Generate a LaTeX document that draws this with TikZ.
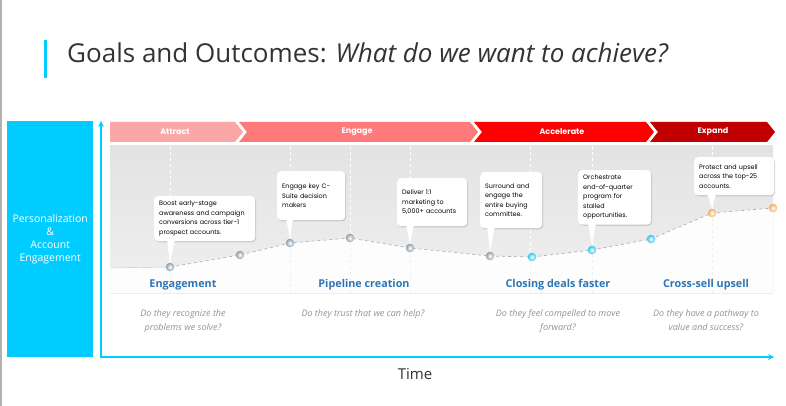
\documentclass[tikz,border=0pt]{standalone}
\usepackage{fontspec}
\setmainfont{Open Sans}
\newfontfamily\gothic{Poppins}
\usetikzlibrary{arrows, positioning, calc, shadows}

\definecolor{skyblue}{HTML}{00CCFF}
\definecolor{stageblue}{HTML}{2E75B6}
\definecolor{attractc}{HTML}{F9A7A7}
\definecolor{engagec}{HTML}{FF7B7B}
\definecolor{acceleratec}{HTML}{FF0000}
\definecolor{expandc}{HTML}{C00000}
\definecolor{steeldot}{HTML}{8D9DAA}
\definecolor{cyandot}{HTML}{2EC4F0}
\definecolor{orangedot}{HTML}{F2AE5C}

\begin{document}
\begin{tikzpicture}[x=1pt, y=-1pt,
    callout/.style={rectangle, rounded corners=4pt, fill=white, anchor=north west, align=left, inner sep=5pt,
        font=\gothic\fontsize{6.4}{9.5}\selectfont, drop shadow={opacity=0.3, shadow xshift=1pt, shadow yshift=-1.2pt}},
    tail/.style={fill=white},
    dot/.style={circle, minimum size=8.5pt, inner sep=0pt, inner color=white},
    chevlabel/.style={font=\gothic\bfseries\fontsize{8}{9}\selectfont, text=white},
    stage/.style={font=\bfseries\fontsize{10.8}{12}\selectfont, text=stageblue},
    question/.style={font=\itshape\fontsize{9}{14.5}\selectfont, text=gray!85, align=center},
    grid/.style={white, dashed, line width=0.8pt},
    arrow/.style={->, >=stealth, thick},
    every node/.style={inner sep=2pt}
]

\useasboundingbox (0,0) rectangle (786,406);
\fill[white] (0,0) rectangle (786,406);
\draw[gray!60, line width=1.2pt] (1,0) -- (1,406);

% =================== TITLE ===================
\fill[skyblue] (44,40) rectangle (47,78);
\node[anchor=west, font=\fontsize{26}{28}\selectfont, text=black!80] (title) at (65,53)
    {Goals and Outcomes: \textit{What do we want to achieve?}};

% =================== LEFT LABEL ===================
\node[rectangle, fill=skyblue, minimum width=86pt, minimum height=236pt, anchor=north west] (side) at (7,121) {};
\node[text=white, align=center, font=\fontsize{10.5}{13}\selectfont] (sidetext) at (side.center)
    {Personalization\\\&\\Account\\Engagement};

% =================== PANEL ===================
\shade[top color=gray!22, bottom color=gray!12] (110,146) rectangle (773,293);

\draw[grid] (170,146) -- (170,293);
\draw[grid] (290,146) -- (290,293);
\draw[grid] (350,146) -- (350,293);
\draw[grid] (410,146) -- (410,293);
\draw[grid] (530,146) -- (530,293);
\draw[grid] (592,146) -- (592,293);
\draw[grid] (712,146) -- (712,293);

% curve points
\coordinate (p0) at (110,268);
\coordinate (p1) at (170,267);
\coordinate (p2) at (240,255);
\coordinate (p3) at (290,243);
\coordinate (p4) at (350,238);
\coordinate (p5) at (410,248);
\coordinate (p6) at (490,256);
\coordinate (p7) at (532,257);
\coordinate (p8) at (592,250);
\coordinate (p9) at (651,239);
\coordinate (p10) at (712,213);
\coordinate (p11) at (773,208);

% white area under the curve
\fill[white, opacity=0.92] (p0) -- (p1) -- (p2) -- (p3) -- (p4) -- (p5) -- (p6) -- (p7) -- (p8) -- (p9) -- (p10) -- (p11)
    -- (773,293) -- (110,293) -- cycle;
\begin{scope}
    \clip (p0) -- (p1) -- (p2) -- (p3) -- (p4) -- (p5) -- (p6) -- (p7) -- (p8) -- (p9) -- (p10) -- (p11)
        -- (773,293) -- (110,293) -- cycle;
    \foreach \gx in {170,290,350,410,530,592,712}
        \draw[gray!12, dashed] (\gx,146) -- (\gx,293);
    \draw[gray!25] (773,146) -- (773,293);
\end{scope}
\draw[gray!15] (110,293) -- (773,293);

\draw[gray!45] (p0) -- (p1);
\draw[gray!60, dashed, line width=0.7pt] (p1) -- (p2) -- (p3) -- (p4) -- (p5) -- (p6) -- (p7) -- (p8) -- (p9) -- (p10) -- (p11);

% dots
\node[dot, outer color=steeldot] (d1) at (p1) {};
\node[dot, outer color=steeldot] (d2) at (p2) {};
\node[dot, outer color=steeldot] (d3) at (p3) {};
\node[dot, outer color=steeldot] (d4) at (p4) {};
\node[dot, outer color=steeldot] (d5) at (p5) {};
\node[dot, outer color=steeldot] (d6) at (p6) {};
\node[dot, outer color=cyandot] (d7) at (p7) {};
\node[dot, outer color=cyandot] (d8) at (p8) {};
\node[dot, outer color=cyandot] (d9) at (p9) {};
\node[dot, outer color=orangedot] (d10) at (p10) {};
\node[dot, outer color=orangedot] (d11) at (p11) {};

% =================== CALLOUTS ===================
\node[callout, text width=91pt, minimum height=43pt] (c1) at (154,196)
    {Boost early-stage\\awareness and campaign\\conversions across tier-1\\prospect accounts.};
\fill[tail] ([xshift=13pt, yshift=2pt]c1.south west) -- (d1.north) -- ([xshift=21pt, yshift=2pt]c1.south west) -- cycle;

\node[callout, text width=58pt, minimum height=49pt] (c2) at (277,171)
    {Engage key C-\\Suite decision\\makers\\[8pt]};
\fill[tail] ([xshift=9pt, yshift=2pt]c2.south west) -- (d3.north) -- ([xshift=16pt, yshift=2pt]c2.south west) -- cycle;

\node[callout, text width=60pt, minimum height=48pt] (c3) at (397,178)
    {Deliver 1\kern0pt:\kern0pt1\\marketing to\\5,000+ accounts};
\fill[tail] ([xshift=9pt, yshift=2pt]c3.south west) -- (d5.north) -- ([xshift=17pt, yshift=2pt]c3.south west) -- cycle;

\node[callout, text width=52pt, minimum height=56pt] (c4) at (480,172)
    {Surround and\\engage the\\entire buying\\committee.};
\fill[tail] ([xshift=7pt, yshift=2pt]c4.south west) -- (d6.north) -- ([xshift=15pt, yshift=2pt]c4.south west) -- cycle;

\node[callout, text width=63pt, minimum height=52pt] (c5) at (578,170)
    {Orchestrate\\end-of-quarter\\program for\\stalled\\opportunities.};
\fill[tail] ([xshift=10pt, yshift=2pt]c5.south west) -- (d8.north) -- ([xshift=18pt, yshift=2pt]c5.south west) -- cycle;

\node[callout, text width=70pt, minimum height=38pt] (c6) at (694,157)
    {Protect and upsell\\across the top-25\\accounts.\\[2pt]};
\fill[tail] ([xshift=13pt, yshift=2pt]c6.south west) -- (d10.north) -- ([xshift=22pt, yshift=2pt]c6.south west) -- cycle;

% =================== PHASE CHEVRONS ===================
\fill[attractc] (110,122) -- (235,122) -- (243,132) -- (235,142) -- (110,142) -- cycle;
\fill[engagec] (239,122) -- (470,122) -- (478,132) -- (470,142) -- (239,142) -- (247,132) -- cycle;
\fill[acceleratec] (474,122) -- (646,122) -- (654,132) -- (646,142) -- (474,142) -- (482,132) -- cycle;
\fill[expandc] (650,122) -- (767,122) -- (775,132) -- (767,142) -- (650,142) -- (658,132) -- cycle;

\node[chevlabel] (attract) at (175,132) {Attract};
\node[chevlabel] (engage) at (357,132) {Engage};
\node[chevlabel] (accelerate) at (562,132) {Accelerate};
\node[chevlabel] (expand) at (713,132) {Expand};

% =================== STAGES ===================
\node[stage] (s1) at (183,285) {Engagement};
\node[stage] (s2) at (364,285) {Pipeline creation};
\node[stage] (s3) at (558,285) {Closing deals faster};
\node[stage] (s4) at (706,285) {Cross-sell upsell};

\node[question, anchor=north] (q1) at (183,307) {Do they recognize the\\problems we solve?};
\node[question, anchor=north] (q2) at (363,307) {Do they trust that we can help?};
\node[question, anchor=north] (q3) at (558,307) {Do they feel compelled to move\\forward?};
\node[question, anchor=north] (q4) at (706,307) {Do they have a pathway to\\value and success?};

% =================== AXES ===================
\coordinate (origin) at (101,357);
\coordinate (ytop) at (101,121);
\coordinate (xend) at (774,357);
\draw[arrow, <->, skyblue, line width=1.6pt] (ytop) -- (origin) -- (xend);

\node[font=\fontsize{15}{16}\selectfont, text=black!80] (time) at (415,374) {Time};

\end{tikzpicture}
\end{document}
